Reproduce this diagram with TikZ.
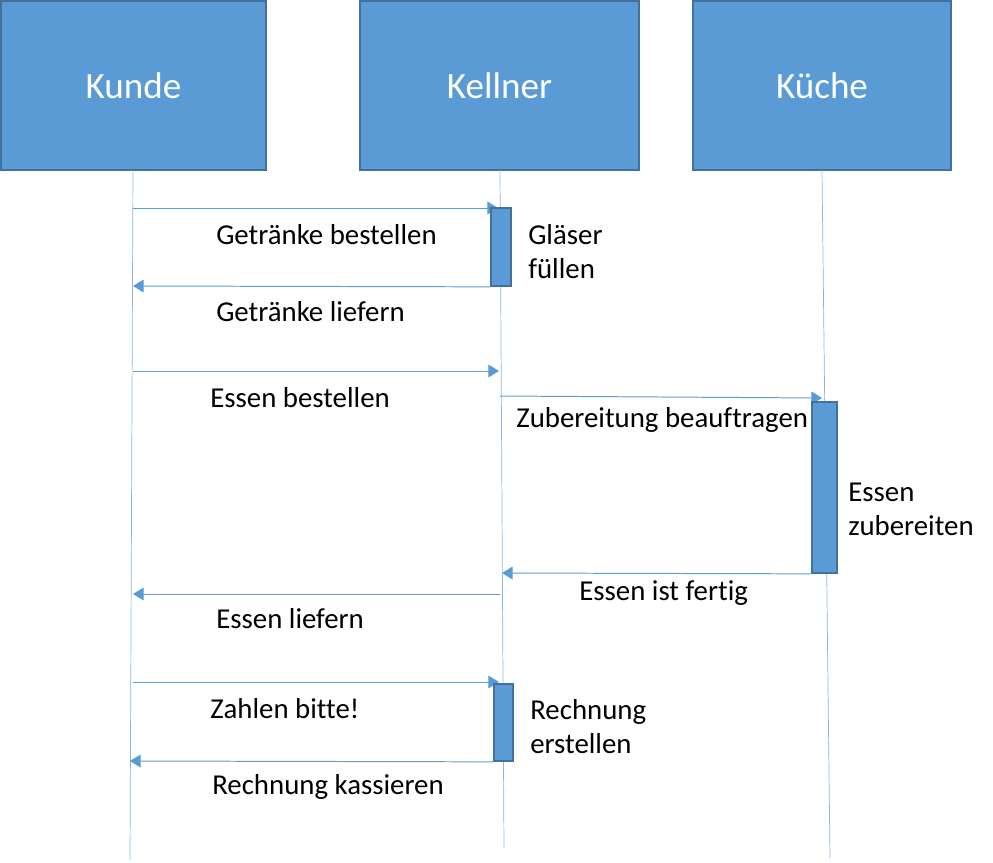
\documentclass[tikz,border=0pt]{standalone}
\usepackage{fontspec}
\setmainfont[Ligatures=NoCommon]{Carlito}
\usetikzlibrary{arrows.meta, positioning}
\definecolor{boxBlue}{RGB}{91,155,213}
\definecolor{boxEdge}{RGB}{65,113,156}

\begin{document}
\begin{tikzpicture}[x=0.025cm, y=-0.025cm,
    actor/.style={draw=boxEdge, fill=boxBlue, line width=1.4pt, text=white,
        font=\fontsize{26.4}{30}\selectfont, inner sep=0pt},
    activity/.style={draw=boxEdge, fill=boxBlue, line width=1.2pt, inner sep=0pt},
    lifeline/.style={draw=boxBlue!75, line width=0.5pt},
    msg/.style={draw=boxBlue, line width=0.7pt, -{Triangle[length=7.5pt, width=9pt]}},
    msgtext/.style={font=\fontsize{20.5}{24.2}\selectfont, inner sep=0pt, anchor=west, align=left}]
    \useasboundingbox (0,0) rectangle (993,862);

    % Actors
    \foreach \name/\txt/\x/\w in {kunde/Kunde/133.5/265, kellner/Kellner/499.5/279, kueche/Küche/822/258} {
        \node[actor, minimum width={\w*0.025cm}, minimum height={169*0.025cm}] (\name) at (\x,85.5) {\txt};
    }

    % Lifelines
    \coordinate (kunde-end) at (130,860);
    \coordinate (kellner-end) at (504,848);
    \coordinate (kueche-end) at (830,858);
    \draw[lifeline] (133,170) -- (kunde-end);
    \draw[lifeline] (500,170) -- (kellner-end);
    \draw[lifeline] (822,170) -- (kueche-end);

    % Messages
    \coordinate (ku1) at (133,208);  \coordinate (ke1) at (498,208);
    \coordinate (ku2) at (133,286);
    \coordinate (ku3) at (133,371);  \coordinate (ke3) at (499,371);
    \coordinate (ke4) at (500,396);  \coordinate (kc4) at (822,398);
    \coordinate (ke5) at (502,573);
    \coordinate (ke6) at (500,594);  \coordinate (ku6) at (133,594);
    \coordinate (ku7) at (133,682);  \coordinate (ke7) at (499,682);
    \coordinate (ku8) at (130,761);

    \draw[msg] (ku1) -- (ke1);
    \draw[msg] (ku3) -- (ke3);
    \draw[msg] (ke4) -- (kc4);
    \draw[msg] (ke6) -- (ku6);
    \draw[msg] (ku7) -- (ke7);

    % Activation boxes
    \node[activity, minimum width={20*0.025cm}, minimum height={78*0.025cm}] (fuellen) at (501,247) {};
    \node[activity, minimum width={25*0.025cm}, minimum height={171*0.025cm}] (zubereiten) at (824.5,487.5) {};
    \node[activity, minimum width={19*0.025cm}, minimum height={77*0.025cm}] (erstellen) at (503.5,722.5) {};

    \draw[msg] (fuellen.south west) -- (ku2);
    \draw[msg] (zubereiten.south west) -- (ke5);
    \draw[msg] (erstellen.south west) -- (ku8);

    % Labels
    \node[msgtext] (t1) at (216,235) {Getränke bestellen};
    \node[msgtext] (t2) at (528,252) {Gläser\\füllen};
    \node[msgtext] (t3) at (216,312) {Getränke liefern};
    \node[msgtext] (t4) at (210,398) {Essen bestellen};
    \node[msgtext] (t5) at (516,420) {Zubereitung beauftragen};
    \node[msgtext] (t6) at (848,509) {Essen\\zubereiten};
    \node[msgtext] (t7) at (579,593) {Essen ist fertig};
    \node[msgtext] (t8) at (216,619) {Essen liefern};
    \node[msgtext] (t9) at (210,709) {Zahlen bitte!};
    \node[msgtext] (t10) at (530,727) {Rechnung\\erstellen};
    \node[msgtext] (t11) at (212,787) {Rechnung kassieren};
\end{tikzpicture}
\end{document}
